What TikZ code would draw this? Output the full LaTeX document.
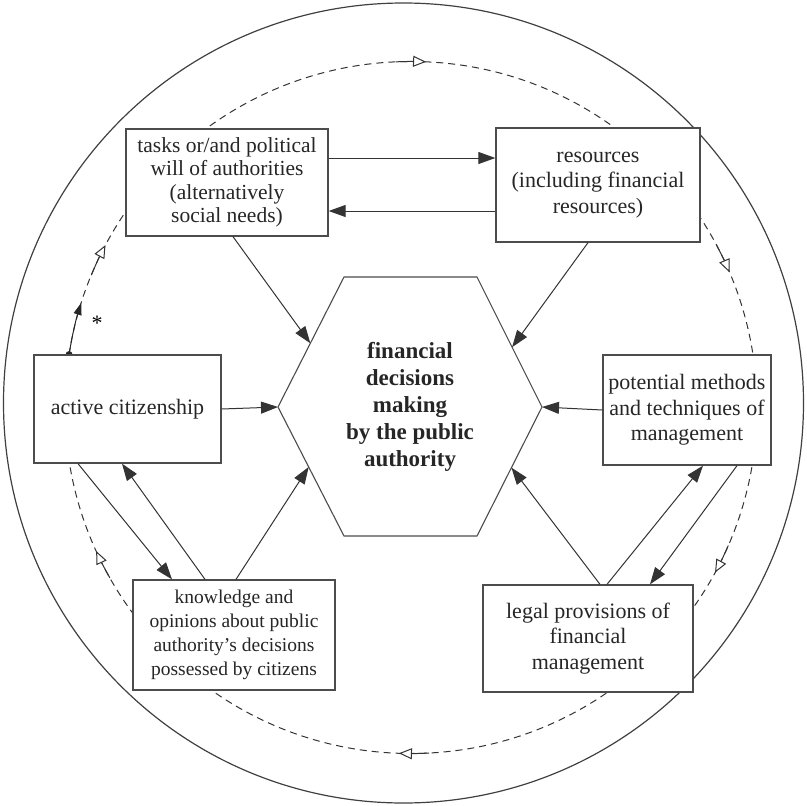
\documentclass[tikz,border=0pt]{standalone}
\usepackage{fontspec}
\setmainfont{Liberation Serif}
\usetikzlibrary{calc}
\usetikzlibrary{arrows.meta}

\tikzset{
  box/.style={draw=black!70,line width=1.3pt,fill=white,align=center,inner sep=2pt,
    font=\fontsize{22}{25.5}\selectfont,text=black!85},
  flow/.style={draw=black!80,line width=1pt,-{Triangle[length=17pt,width=12pt]}},
  cyc/.style={draw=black!80,line width=1pt,-{Triangle[fill=white,length=13pt,width=11pt]}}
}

\begin{document}
\begin{tikzpicture}[x=1pt,y=-1pt]
\useasboundingbox (0,0) rectangle (807,806);
\def\r{346}
\coordinate (c) at (411,407.5);

\draw[black!75,line width=1.2pt] (403.5,403) circle[radius=400];
\draw[black!80,line width=1pt,dash pattern=on 7pt off 5pt] (c) circle[radius=\r];
\foreach \a/\b in {-92.5/-87.5,-28/-23,23.5/28.5,87/92,-157.5/-152,-209.5/-204.5}
  \draw[cyc] ([shift={(\a:\r)}]c) arc[start angle=\a,end angle=\b,radius=\r];

\coordinate (dot) at ([shift={(-171.2:\r)}]c);
\draw[draw=black!85,line width=1pt,-{Triangle[length=12pt,width=8pt]}] (dot) arc[start angle=-171.2,end angle=-162.4,radius=\r];
\fill[black!85] (dot) circle[radius=3.5];
\node[inner sep=0pt,font=\fontsize{22}{22}\selectfont] (star) at (97,323) {*};

\node[box,minimum width=202pt,minimum height=107pt,font=\fontsize{21.5}{23.5}\selectfont] (tasks) at (227,182.5)
  {tasks or/and political\\will of authorities\\(alternatively\\social needs)};
\node[box,minimum width=204pt,minimum height=114pt] (res) at (598,185)
  {resources\\(including financial\\resources)};
\node[box,minimum width=187pt,minimum height=108pt] (active) at (127.5,409) {active citizenship};
\node[box,minimum width=168pt,minimum height=110pt] (methods) at (687,410)
  {potential methods\\and techniques of\\management};
\node[box,minimum width=202pt,minimum height=110pt,font=\fontsize{19.5}{24}\selectfont] (know) at (234,635)
  {knowledge and\\opinions about public\\authority's decisions\\possessed by citizens};
\node[box,minimum width=210pt,minimum height=107pt] (legal) at (588,638.5)
  {legal provisions of\\financial\\management};

\coordinate (hTL) at (344,277);
\coordinate (hTR) at (477,277);
\coordinate (hR) at (542,407);
\coordinate (hBR) at (477,536);
\coordinate (hBL) at (344,536);
\coordinate (hL) at (278,407);
\draw[black!70,line width=1.1pt,fill=white] (hTL) -- (hTR) -- (hR) -- (hBR) -- (hBL) -- (hL) -- cycle;
\node[align=center,font=\bfseries\fontsize{23}{27}\selectfont,text=black!85] (hub) at (410,407)
  {financial\\decisions\\making\\by the public\\authority};

\draw[flow] (tasks.east |- 0,158) -- (res.west |- 0,158);
\draw[flow] (res.west |- 0,211) -- (tasks.east |- 0,211);
\draw[flow] (tasks.south -| 233,0) -- ($(hL)!.49!(hTL)$);
\draw[flow] (res.south -| 588,0) -- ($(hR)!.46!(hTR)$);
\draw[flow] (active.east) -- (hL);
\draw[flow] (methods.west) -- (hR);
\draw[flow] (know.north -| 236,0) -- ($(hL)!.465!(hBL)$);
\draw[flow] (legal.north -| 600,0) -- ($(hR)!.47!(hBR)$);
\draw[flow] (active.south -| 78,0) -- (know.north -| 172,0);
\draw[flow] (know.north -| 205,0) -- (active.south -| 122,0);
\draw[flow] (legal.north -| 607,0) -- (methods.south -| 703,0);
\draw[flow] (methods.south -| 737,0) -- (legal.north -| 650,0);
\end{tikzpicture}
\end{document}
